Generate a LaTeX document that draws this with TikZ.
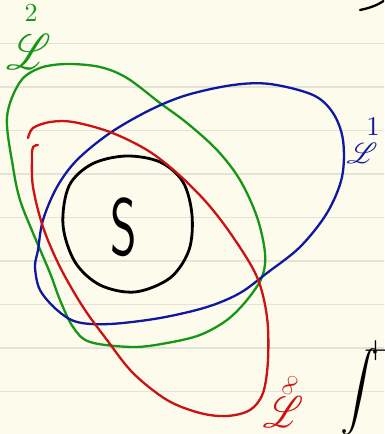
\documentclass[tikz,border=0pt]{standalone}
\usepackage{amsmath, amssymb, mathrsfs}
\usetikzlibrary{calc}
\definecolor{paper}{RGB}{253,251,236}
\definecolor{ruling}{RGB}{229,227,215}
\definecolor{pgreen}{RGB}{22,150,22}
\definecolor{pblue}{RGB}{14,24,160}
\definecolor{pred}{RGB}{204,18,18}

\begin{document}
\begin{tikzpicture}[x=1pt, y=-1pt, line cap=round, line join=round]
\tikzset{ink/.style={line width=2.3pt, smooth cycle, tension=0.55}}
\useasboundingbox (0,0) rectangle (384,434);
\clip (0,0) rectangle (384,434);
\fill[paper] (0,0) rectangle (384,434);
\foreach \y in {43.5,87,130.5,174,217.5,261,304.5,348,391.5}
  \draw[ruling, line width=1.3pt] (0,\y)--(384,\y);

\draw[ink, line width=2.8pt] plot coordinates {(126,156) (160,162) (183,182) (192,215) (189,250) (170,278) (135,292) (100,285) (75,262) (63,225) (69,186) (92,164)};
\node (S) at (124,227) {\scalebox{1.15}[1.85]{\fontsize{44}{44}\selectfont\sffamily S}};

\draw[ink, pgreen] plot coordinates {(40,68) (67,64) (100,67) (127,78) (160,103) (187,123) (217,150) (240,180) (257,217) (265,253) (262,277) (247,300) (227,320) (200,335) (167,343) (133,347) (90,342) (73,327) (60,300) (50,273) (33,233) (20,200) (13,167) (7,117) (20,82)};

\draw[ink, pblue] plot coordinates {(270,84) (313,95) (333,113) (343,140) (342,177) (327,213) (300,247) (267,273) (240,293) (207,307) (160,318) (110,324) (77,322) (57,310) (40,290) (35,267) (38,250) (43,220) (57,187) (77,160) (110,133) (150,110) (187,95) (233,85)};

\draw[pred, line width=2.3pt, smooth, tension=0.55] plot coordinates {(28,138) (33,128) (50,122) (73,122) (110,132) (147,150) (177,173) (207,203) (233,237) (257,277) (267,317) (268,360) (263,393) (250,410) (227,416) (200,413) (167,400) (133,373) (107,340) (83,307) (60,267) (43,227) (33,187) (32,157) (33,147) (38,145)};

\node[pgreen] (Ltwo) at (29,52) {\scalebox{4.2}[5]{$\mathscr{L}$}};
\node[pgreen] (Ltwoexp) at (31,13) {\scalebox{2.6}{$2$}};
\node[pblue] (Lone) at (362,153) {\scalebox{2.9}{$\mathscr{L}$}};
\node[pblue] (Loneexp) at (373,127) {\scalebox{2.7}{$1$}};
\node[pred] (Linf) at (283,412) {\scalebox{3.8}[4.4]{$\mathscr{L}$}};
\node[pred, rotate=60] (Linfexp) at (290,386) {\scalebox{2.2}{$\infty$}};
\node[anchor=west, inner sep=0pt] (integral) at (340,388) {\scalebox{3.9}{$\displaystyle\int^{\kern-4pt+\infty}$}};
\draw[line width=2.3pt] (360,10) .. controls (370,8) and (378,5) .. (385,0);
\end{tikzpicture}
\end{document}
